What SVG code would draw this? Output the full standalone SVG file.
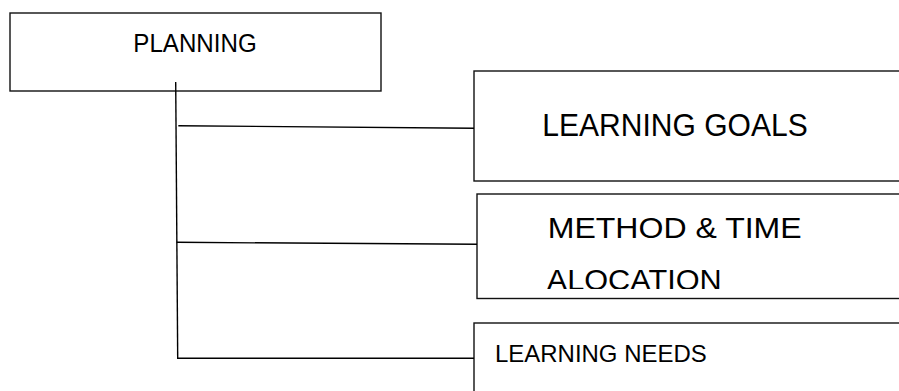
<svg xmlns="http://www.w3.org/2000/svg" width="899" height="391" viewBox="0 0 899 391">
  <style>
    .box { fill: #ffffff; stroke: #111111; stroke-width: 1.4; }
    .conn { fill: none; stroke: #000000; stroke-width: 1.4; }
    .lbl { font-family: "Liberation Sans", Arial, sans-serif; fill: #000000; }
  </style>
  <defs>
    <clipPath id="clipMethod">
      <rect x="477" y="195" width="430" height="94"/>
    </clipPath>
  </defs>
  <rect width="899" height="391" fill="#ffffff"/>
  <g id="planning">
    <rect class="box" x="10" y="13" width="371" height="78"/>
    <text class="lbl" x="133.3" y="51.7" font-size="25.5" textLength="123.4" lengthAdjust="spacingAndGlyphs">PLANNING</text>
  </g>
  <g id="learning-goals">
    <rect class="box" x="474" y="71" width="440" height="110"/>
    <text class="lbl" x="542.3" y="136" font-size="30.7" textLength="265.4" lengthAdjust="spacingAndGlyphs">LEARNING GOALS</text>
  </g>
  <g id="method-time">
    <rect class="box" x="477" y="194" width="440" height="104.5"/>
    <g clip-path="url(#clipMethod)">
      <text class="lbl" x="547.7" y="238.3" font-size="29.3" textLength="254" lengthAdjust="spacingAndGlyphs">METHOD &amp; TIME</text>
      <text class="lbl" x="546.7" y="289.5" font-size="29.3" textLength="175" lengthAdjust="spacingAndGlyphs">ALOCATION</text>
    </g>
  </g>
  <g id="learning-needs">
    <rect class="box" x="474" y="323" width="440" height="100"/>
    <text class="lbl" x="495" y="362.3" font-size="24.2" textLength="211.7" lengthAdjust="spacingAndGlyphs">LEARNING NEEDS</text>
  </g>
  <g id="connectors">
    <line class="conn" x1="175.7" y1="82" x2="177.7" y2="358.3"/>
    <line class="conn" x1="178.3" y1="125.7" x2="474" y2="128.3"/>
    <line class="conn" x1="176.7" y1="242.3" x2="477" y2="244.3"/>
    <line class="conn" x1="177" y1="358.3" x2="474" y2="358.3"/>
  </g>
</svg>
